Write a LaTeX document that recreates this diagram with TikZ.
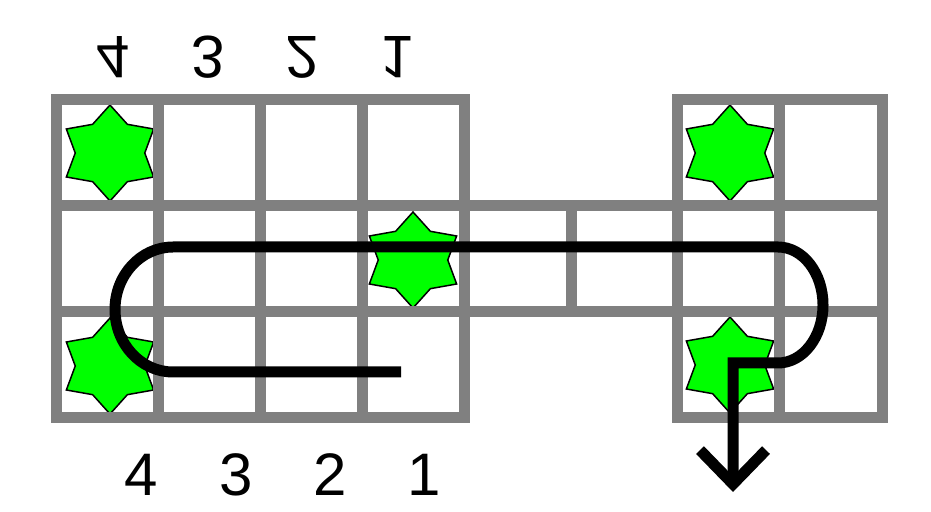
\documentclass[tikz,border=0pt]{standalone}
\usepackage{fontspec}
\setmainfont{Liberation Sans}
\usepackage{tikz}
\usetikzlibrary{shapes.geometric, arrows.meta}
\tikzstyle{gem}=[star, star points=6, star point ratio=1.45, minimum size=96pt,
                 inner sep=0pt, fill=green, draw=black, line width=1.5pt, xscale=1.05]
\tikzstyle{gridline}=[draw=gray, line width=11pt, line cap=rect]
\tikzstyle{route}=[draw=black, line width=11pt, -{Straight Barb[length=34pt, width=66pt]}]
\tikzstyle{num}=[font=\fontsize{60}{72}\selectfont, inner sep=0pt]

\begin{document}
\begin{tikzpicture}[x=1pt, y=1pt]
  \useasboundingbox (0,0) rectangle (931,511);

  % Stars
  \node[gem] (gemA) at (110,358) {};
  \node[gem] (gemB) at (110,145) {};
  \node[gem] (gemC) at (413,251) {};
  \node[gem] (gemD) at (730,358) {};
  \node[gem] (gemE) at (730,146) {};

  % Board
  \foreach \x in {56,158,260,362,464}
    \draw[gridline] (\x,93) -- (\x,411);
  \foreach \x in {677,779,882}
    \draw[gridline] (\x,93) -- (\x,411);
  \foreach \y in {93,411} {
    \draw[gridline] (56,\y) -- (464,\y);
    \draw[gridline] (677,\y) -- (882,\y);
  }
  \foreach \y in {199,305}
    \draw[gridline] (56,\y) -- (882,\y);
  \draw[gridline] (571,199) -- (571,305);

  % Route
  \coordinate (start) at (401,139);
  \coordinate (exit) at (733,19);
  \draw[route] (start) -- (173,139)
    arc[start angle=-90, end angle=-270, x radius=58pt, y radius=62.5pt]
    -- (778,264)
    arc[start angle=90, end angle=-90, x radius=45pt, y radius=58pt]
    -- (733,148) -- (exit);

  % Column numbers
  \foreach \n/\x in {4/113,3/208,2/302,1/397}
    \node[num, yscale=-1] (top\n) at (\x,454) {\n};
  \foreach \n/\x in {4/141,3/236,2/330,1/424}
    \node[num] (bot\n) at (\x,36) {\n};
\end{tikzpicture}
\end{document}
